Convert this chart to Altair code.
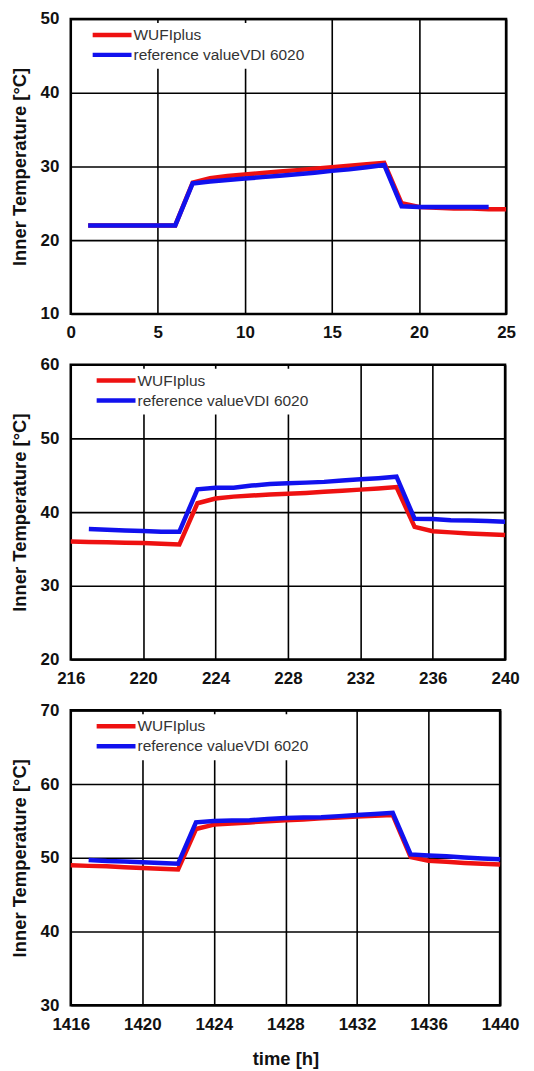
import altair as alt
import pandas as pd

SERIES = ["WUFIplus", "reference valueVDI 6020"]
COLORS = ["#ee1111", "#1111ee"]

# Panel 1 (hours 0-25)
hours1_wufi = list(range(1, 26))
temp1_wufi = [22.0, 22.0, 22.0, 22.0, 22.0, 22.0, 27.8, 28.4, 28.7, 28.9, 29.1, 29.3, 29.5,
              29.7, 29.9, 30.1, 30.3, 30.5, 25.0, 24.5, 24.4, 24.3, 24.3, 24.2, 24.2]
hours1_ref = list(range(1, 25))
temp1_ref = [22.0, 22.0, 22.0, 22.0, 22.0, 22.0, 27.7, 27.95, 28.15, 28.35, 28.55, 28.75,
             28.95, 29.15, 29.4, 29.6, 29.9, 30.2, 24.6, 24.5, 24.5, 24.5, 24.5, 24.5]

# Panel 2 (hours 216-240)
hours2_wufi = list(range(216, 241))
temp2_wufi = [36.0, 35.95, 35.9, 35.85, 35.8, 35.7, 35.6, 41.2, 41.85, 42.1, 42.25, 42.4, 42.5,
              42.6, 42.75, 42.9, 43.05, 43.2, 43.4, 38.0, 37.4, 37.25, 37.1, 37.0, 36.9]
hours2_ref = list(range(217, 241))
temp2_ref = [37.7, 37.6, 37.5, 37.45, 37.35, 37.35, 43.1, 43.3, 43.3, 43.6, 43.8, 43.9, 44.0,
             44.1, 44.3, 44.45, 44.6, 44.8, 39.1, 39.05, 38.9, 38.85, 38.8, 38.7]

# Panel 3 (hours 1416-1440)
hours3_wufi = list(range(1416, 1441))
temp3_wufi = [49.0, 48.9, 48.85, 48.7, 48.6, 48.5, 48.4, 53.9, 54.5, 54.65, 54.8, 54.95, 55.1,
              55.2, 55.35, 55.45, 55.6, 55.7, 55.8, 50.1, 49.6, 49.45, 49.3, 49.2, 49.1]
hours3_ref = list(range(1417, 1441))
temp3_ref = [49.7, 49.55, 49.5, 49.4, 49.3, 49.2, 54.8, 55.0, 55.05, 55.1, 55.25, 55.4, 55.45,
             55.5, 55.65, 55.8, 55.95, 56.1, 50.45, 50.3, 50.2, 50.05, 49.9, 49.8]

x_ticks1 = [0, 5, 10, 15, 20, 25]
y_ticks1 = [10, 20, 30, 40, 50]
x_ticks2 = [216, 220, 224, 228, 232, 236, 240]
y_ticks2 = [20, 30, 40, 50, 60]
x_ticks3 = [1416, 1420, 1424, 1428, 1432, 1436, 1440]
y_ticks3 = [30, 40, 50, 60, 70]

FONT = "Liberation Sans"


def make_df(hw, tw, hr, tr):
    a = pd.DataFrame({"hour": hw, "temp": tw, "series": SERIES[0], "order": 0})
    b = pd.DataFrame({"hour": hr, "temp": tr, "series": SERIES[1], "order": 1})
    return pd.concat([a, b], ignore_index=True)


def legend_layers(sym_x, box_w):
    layers = []
    box = alt.Chart(pd.DataFrame({"k": [0]})).mark_rect(fill="white", stroke=None).encode(
        x=alt.value(2), x2=alt.value(box_w), y=alt.value(4), y2=alt.value(50))
    layers.append(box)
    for i, (name, col) in enumerate(zip(SERIES, COLORS)):
        yy = 16 + 20 * i
        one = alt.Chart(pd.DataFrame({"series": [name]}))
        layers.append(one.mark_rule(color=col, strokeWidth=4.5).encode(
            x=alt.value(sym_x), x2=alt.value(sym_x + 39), y=alt.value(yy)))
        layers.append(one.mark_text(align="left", baseline="middle", font=FONT, fontSize=15.5,
                                    color="#333").encode(
            x=alt.value(sym_x + 41), y=alt.value(yy), text="series:N"))
    return layers


def panel(df, xticks, yticks, width, sym_x, box_w, xtitle=None):
    xaxis = dict(values=xticks, grid=True, gridColor="black", gridWidth=1.6, gridOpacity=1,
                 domain=False, ticks=False, labelFontSize=17, labelFontWeight="bold",
                 labelFont=FONT, labelColor="#111", labelPadding=11, labelFlush=False,
                 labelOverlap=False, format="d")
    if xtitle:
        xaxis.update(title=xtitle, titleFont=FONT, titleFontSize=18.5, titleFontWeight="bold",
                     titleColor="#111", titlePadding=18)
    else:
        xaxis.update(title=None)
    lines = alt.Chart(df).mark_line(strokeWidth=4.5).encode(
        x=alt.X("hour:Q", scale=alt.Scale(domain=[xticks[0], xticks[-1]], nice=False, zero=False),
                axis=alt.Axis(**xaxis)),
        y=alt.Y("temp:Q", scale=alt.Scale(domain=[yticks[0], yticks[-1]], nice=False, zero=False),
                axis=alt.Axis(values=yticks, title="Inner Temperature [°C]", grid=True,
                              gridColor="black", gridWidth=1.6, gridOpacity=1, domain=False,
                              ticks=False, labelFontSize=17, labelFontWeight="bold",
                              labelFont=FONT, labelColor="#111", labelPadding=12,
                              titleFont=FONT, titleFontSize=18.5, titleFontWeight="bold",
                              titleColor="#111", titlePadding=11)),
        color=alt.Color("series:N", scale=alt.Scale(domain=SERIES, range=COLORS), legend=None),
        order=alt.Order("order:Q"),
    )
    return alt.layer(lines, *legend_layers(sym_x, box_w)).properties(width=width, height=296)


p1 = panel(make_df(hours1_wufi, temp1_wufi, hours1_ref, temp1_ref), x_ticks1, y_ticks1, 437, 22, 245)
p2 = panel(make_df(hours2_wufi, temp2_wufi, hours2_ref, temp2_ref), x_ticks2, y_ticks2, 436, 26, 250)
p3 = panel(make_df(hours3_wufi, temp3_wufi, hours3_ref, temp3_ref), x_ticks3, y_ticks3, 431, 26, 250,
           xtitle="time [h]")

chart = alt.vconcat(p1, p2, p3, spacing=11).properties(
    padding={"top": -2, "left": 0, "right": 5, "bottom": 0},
    background="white",
).configure_view(stroke="black", strokeWidth=2.5)

chart.save("out.html", embed_options={"renderer": "svg", "actions": False})
